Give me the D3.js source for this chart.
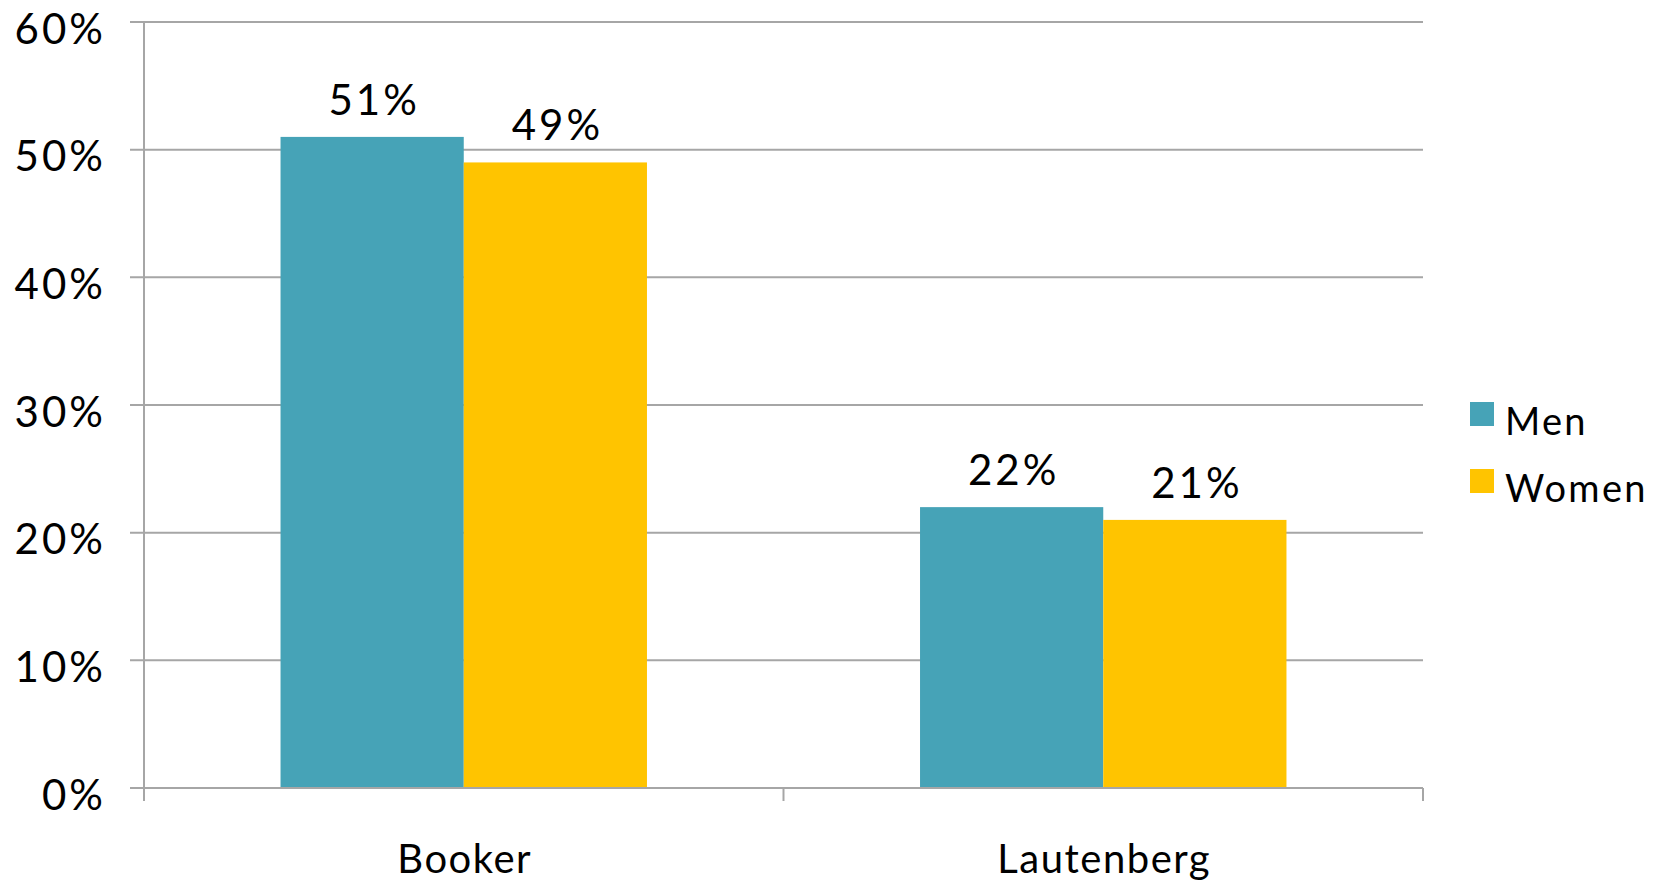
<!DOCTYPE html>
<html>
<head>
<meta charset="utf-8">
<script src="https://cdn.jsdelivr.net/npm/d3@7"></script>
<style>
  body { margin: 0; background: #fff; }
  text { font-family: Lato, "Open Sans", sans-serif; fill: #000; }
</style>
</head>
<body>
<script>
// chart data
var categories = ["Booker", "Lautenberg"];
var seriesNames = ["Men", "Women"];
var menValues = [0.51, 0.22];
var womenValues = [0.49, 0.21];
var yTicks = [0, 0.1, 0.2, 0.3, 0.4, 0.5, 0.6];

var colors = { Men: "#46a3b7", Women: "#ffc400" };

var config = {
    width: 1665,
    height: 884,
    margin: { top: 22, right: 242, bottom: 96, left: 144 }
};

var w = config.width - config.margin.left - config.margin.right;
var h = config.height - config.margin.top - config.margin.bottom;

var rows = categories.map(function(c, i) {
    return { category: c, values: [
        { name: "Men", value: menValues[i] },
        { name: "Women", value: womenValues[i] }
    ]};
});

var svg = d3.select("body").append("svg")
    .attr("width", config.width)
    .attr("height", config.height);

var g = svg.append("g")
    .attr("transform", "translate(" + config.margin.left + "," + config.margin.top + ")");

var x0 = d3.scaleBand().domain(categories).range([0, w]).paddingInner(0.427).paddingOuter(0.2135);
var x1 = d3.scaleBand().domain(seriesNames).range([0, x0.bandwidth()]);
var y = d3.scaleLinear().domain([0, 0.6]).range([h, 0]);

// gridlines
g.append("g").attr("class", "grid")
    .selectAll("line")
    .data(yTicks)
    .enter().append("line")
        .attr("x1", -14)
        .attr("x2", w)
        .attr("y1", function(d) { return y(d); })
        .attr("y2", function(d) { return y(d); })
        .attr("stroke", "#a6a6a6")
        .attr("stroke-width", 2);

// y axis labels
var yAxis = g.append("g")
    .call(d3.axisLeft(y).tickValues(yTicks).tickFormat(d3.format(".0%")).tickSize(0).tickPadding(38));
yAxis.select(".domain").remove();
yAxis.selectAll("text")
    .attr("dy", "0.5em")
    .style("font-size", "42px")
    .style("letter-spacing", "3px");

// bars
var groups = g.selectAll(".cat")
    .data(rows)
    .enter().append("g")
        .attr("transform", function(d) { return "translate(" + x0(d.category) + ",0)"; });

groups.selectAll("rect")
    .data(function(d) { return d.values; })
    .enter().append("rect")
        .attr("x", function(d) { return x1(d.name); })
        .attr("y", function(d) { return y(d.value); })
        .attr("width", x1.bandwidth())
        .attr("height", function(d) { return h - y(d.value); })
        .attr("fill", function(d) { return colors[d.name]; });

groups.selectAll(".lbl")
    .data(function(d) { return d.values; })
    .enter().append("text")
        .attr("class", "lbl")
        .attr("x", function(d) { return x1(d.name) + x1.bandwidth() / 2 + 2; })
        .attr("y", function(d) { return y(d.value) - 22; })
        .attr("text-anchor", "middle")
        .style("font-size", "42px")
        .style("letter-spacing", "3px")
        .text(function(d) { return d3.format(".0%")(d.value); });

// x axis
var xAxisG = g.append("g").attr("transform", "translate(0," + h + ")");
xAxisG.append("line")
    .attr("x1", 0).attr("x2", w)
    .attr("stroke", "#a6a6a6").attr("stroke-width", 2);
xAxisG.selectAll(".tick")
    .data([0, w / 2, w])
    .enter().append("line")
        .attr("x1", function(d) { return d; })
        .attr("x2", function(d) { return d; })
        .attr("y1", 0).attr("y2", 13)
        .attr("stroke", "#a6a6a6").attr("stroke-width", 2);
xAxisG.selectAll(".cl")
    .data(categories)
    .enter().append("text")
        .attr("x", function(d) { return x0(d) + x0.bandwidth() / 2 + 1; })
        .attr("y", 85)
        .attr("text-anchor", "middle")
        .style("font-size", "40px")
        .style("letter-spacing", "1.5px")
        .text(function(d) { return d; });

// y axis line
g.append("line")
    .attr("x1", 0).attr("x2", 0)
    .attr("y1", 0).attr("y2", h + 13)
    .attr("stroke", "#a6a6a6").attr("stroke-width", 2);

// legend
var legend = svg.append("g").attr("transform", "translate(1470,402)");
var li = legend.selectAll("g")
    .data(seriesNames)
    .enter().append("g")
        .attr("transform", function(d, i) { return "translate(0," + (i * 67) + ")"; });
li.append("rect")
    .attr("width", 24).attr("height", 24)
    .attr("fill", function(d) { return colors[d]; });
li.append("text")
    .attr("x", 35)
    .attr("y", 33)
    .style("font-size", "38px")
    .style("letter-spacing", "2.3px")
    .text(function(d) { return d; });
</script>
</body>
</html>
